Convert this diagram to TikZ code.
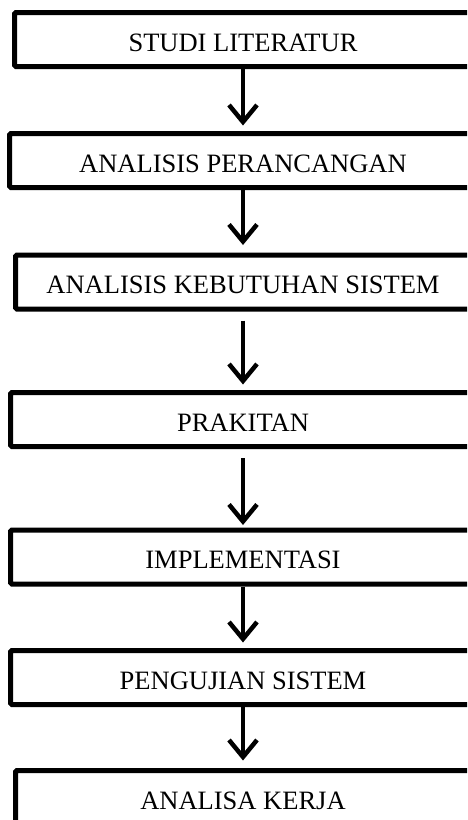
\documentclass[tikz,border=0pt]{standalone}
\usepackage{fontspec}
\setmainfont{Liberation Serif}
\usetikzlibrary{arrows.meta}
\begin{document}
\begin{tikzpicture}[x=1pt,y=-1pt,
  tahap/.style={draw, line width=5pt, rounded corners=1.5pt, minimum height=54pt,
    inner sep=0pt, text height=23pt, text depth=0pt, font=\fontsize{26.5}{30}\selectfont},
  alur/.style={line width=4.5pt, -{Straight Barb[length=17pt,width=28pt]}}]
\useasboundingbox (0,0) rectangle (467,820);
\clip (0,0) rectangle (467,820);
% tahapan
\node[tahap, minimum width=457pt] (studi) at (243,39.5) {STUDI LITERATUR};
\node[tahap, minimum width=467pt] (rancang) at (243,160.5) {ANALISIS PERANCANGAN};
\node[tahap, minimum width=455pt] (butuh) at (243,282) {ANALISIS KEBUTUHAN SISTEM};
\node[tahap, minimum width=465pt] (rakit) at (243,419.5) {PRAKITAN};
\node[tahap, minimum width=465pt] (impl) at (243,557) {IMPLEMENTASI};
\node[tahap, minimum width=465pt] (uji) at (243,677.5) {PENGUJIAN SISTEM};
\node[tahap, minimum width=455pt] (kerja) at (243,797.5) {ANALISA KERJA};
% alur
\draw[alur, shorten >=5.5pt] (studi) -- (rancang);
\draw[alur, shorten >=7.5pt] (rancang) -- (butuh);
\draw[alur, shorten <=9pt, shorten >=5.5pt] (butuh) -- (rakit);
\draw[alur, shorten <=9pt, shorten >=2.5pt] (rakit) -- (impl);
\draw[alur, shorten >=5.5pt] (impl) -- (uji);
\draw[alur, shorten >=7.5pt] (uji) -- (kerja);
\end{tikzpicture}
\end{document}
